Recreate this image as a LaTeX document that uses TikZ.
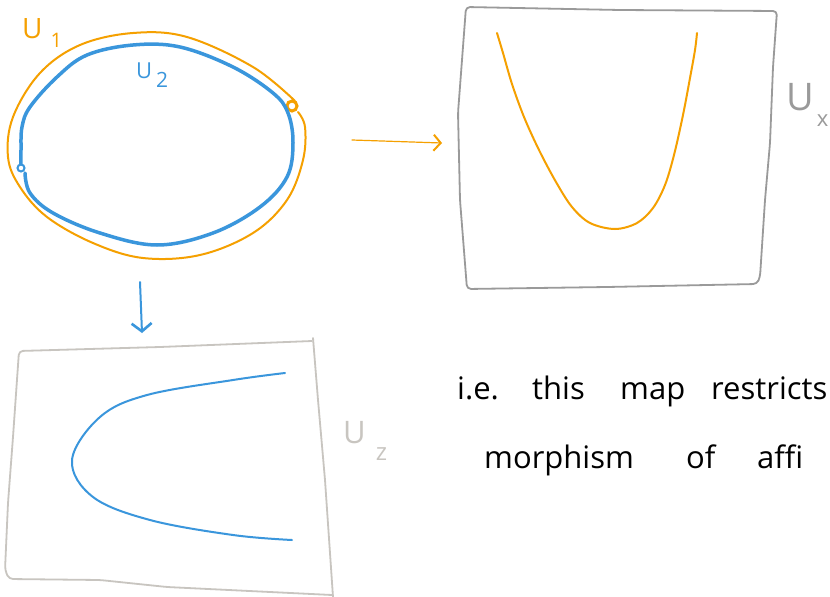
\documentclass[tikz,border=0pt]{standalone}
\usepackage{fontspec}
\setmainfont{Open Sans}
\usetikzlibrary{arrows.meta}
\definecolor{uorange}{HTML}{F5A000}
\definecolor{ublue}{HTML}{3A96DC}
\definecolor{boxgray}{HTML}{9A9A9A}
\definecolor{boxbeige}{HTML}{C8C5C0}
\tikzset{
  sketch/.style={line cap=round, line join=round},
  hand/.style={font=\fontsize{31}{35}\selectfont, anchor=base west, inner sep=0pt},
  lbl/.style={anchor=base west, inner sep=0pt},
  orangearrow/.style={sketch, draw=uorange, line width=1.2pt, -{Straight Barb[length=7pt,width=16pt,line width=2pt]}},
  bluearrow/.style={sketch, draw=ublue, line width=2pt, -{Straight Barb[length=8pt,width=20pt,line width=2.6pt]}},
}
\begin{document}
\begin{tikzpicture}[x=1pt,y=-1pt]
\useasboundingbox (0,0) rectangle (830,597);
\fill[white] (0,0) rectangle (830,597);

% outer U1 (orange)
\draw[sketch, uorange, line width=2pt] plot[smooth, tension=0.6] coordinates {
  (295,101) (253,67) (187,37) (133,33) (80,45) (40,73) (13,117) (8,157) (20,187)
  (47,217) (93,243) (143,258) (200,255) (253,233) (287,200) (303,160) (305,127) (298,112)};
\draw[uorange, line width=3pt] (292,106) circle (5);

% inner U2 (blue)
\draw[sketch, ublue, line width=3.5pt] plot[smooth, tension=0.6] coordinates {
  (21,164) (21,150) (22,127) (30,107) (57,77) (87,55) (133,45) (180,47) (233,67)
  (273,93) (288,113) (293,143) (287,177) (260,207) (213,233) (157,245) (100,233)
  (53,213) (30,193) (25,173)};
\draw[ublue, line width=2pt] (21,168) circle (3.5);

% labels U1, U2
\node[lbl, text=uorange, font=\fontsize{28}{30}\selectfont] (u1) at (22,38) {U\hspace{8pt}\raisebox{-9pt}{\fontsize{20}{20}\selectfont 1}};
\node[lbl, text=ublue, font=\fontsize{22}{24}\selectfont] (u2) at (136,78) {U\hspace{4pt}\raisebox{-9pt}{\fontsize{21}{21}\selectfont 2}};

% top right box Ux
\draw[sketch, boxgray, line width=1.8pt, rounded corners=4pt]
  (466,7) -- (620,10) -- (777,11) -- (773,67) -- (770,143) -- (765,200) -- (760,277)
  -- (757,284) -- (607,287) -- (467,289) -- (460,200) -- (458,113) -- cycle;
\draw[sketch, uorange, line width=2pt] plot[smooth, tension=0.55] coordinates {
  (497,33) (503,53) (512,84) (524,117) (539,150) (556,182) (572,207) (590,223)
  (615,229) (637,223) (653,208) (665,185) (674,155) (683,115) (690,78)
  (695,50) (697,33)};
\node[lbl, text=boxgray, font=\fontsize{38}{40}\selectfont] (ux) at (786,110) {U\hspace{3pt}\raisebox{-16pt}{\fontsize{22}{22}\selectfont x}};

% arrow to Ux
\coordinate (oa1) at (352,140);
\coordinate (oa2) at (442,143);
\draw[orangearrow] (oa1) -- (oa2);

% bottom left box Uz
\draw[sketch, boxbeige, line width=1.8pt, rounded corners=4pt]
  (312,341) -- (160,347) -- (19,351) -- (13,437) -- (8,503) -- (5,570) -- (9,579)
  -- (100,580) -- (167,587) -- (332,595);
\draw[sketch, boxbeige, line width=1.8pt] (313,338) -- (318,400) -- (325,480) -- (333,597);
\draw[sketch, ublue, line width=2pt] plot[smooth, tension=0.6] coordinates {
  (285,373) (233,380) (147,395) (100,417) (72,460) (93,497) (150,520) (233,535) (292,540)};
\node[lbl, text=boxbeige, font=\fontsize{31}{33}\selectfont] (uz) at (343,443) {U\hspace{10pt}\raisebox{-17pt}{\fontsize{24}{24}\selectfont z}};

% arrow to Uz
\coordinate (ba1) at (140,282);
\coordinate (ba2) at (142,333);
\draw[bluearrow] (ba1) -- (ba2);

% handwritten text
\node[hand] (w1) at (457,399) {i.e.};
\node[hand] (w2) at (532,399) {this};
\node[hand] (w3) at (620,399) {map};
\node[hand] (w4) at (711,399) {restricts};
\node[hand] (w5) at (484,468) {morphism};
\node[hand] (w6) at (686,468) {of};
\node[hand] (w7) at (757,468) {affi};
\end{tikzpicture}
\end{document}
